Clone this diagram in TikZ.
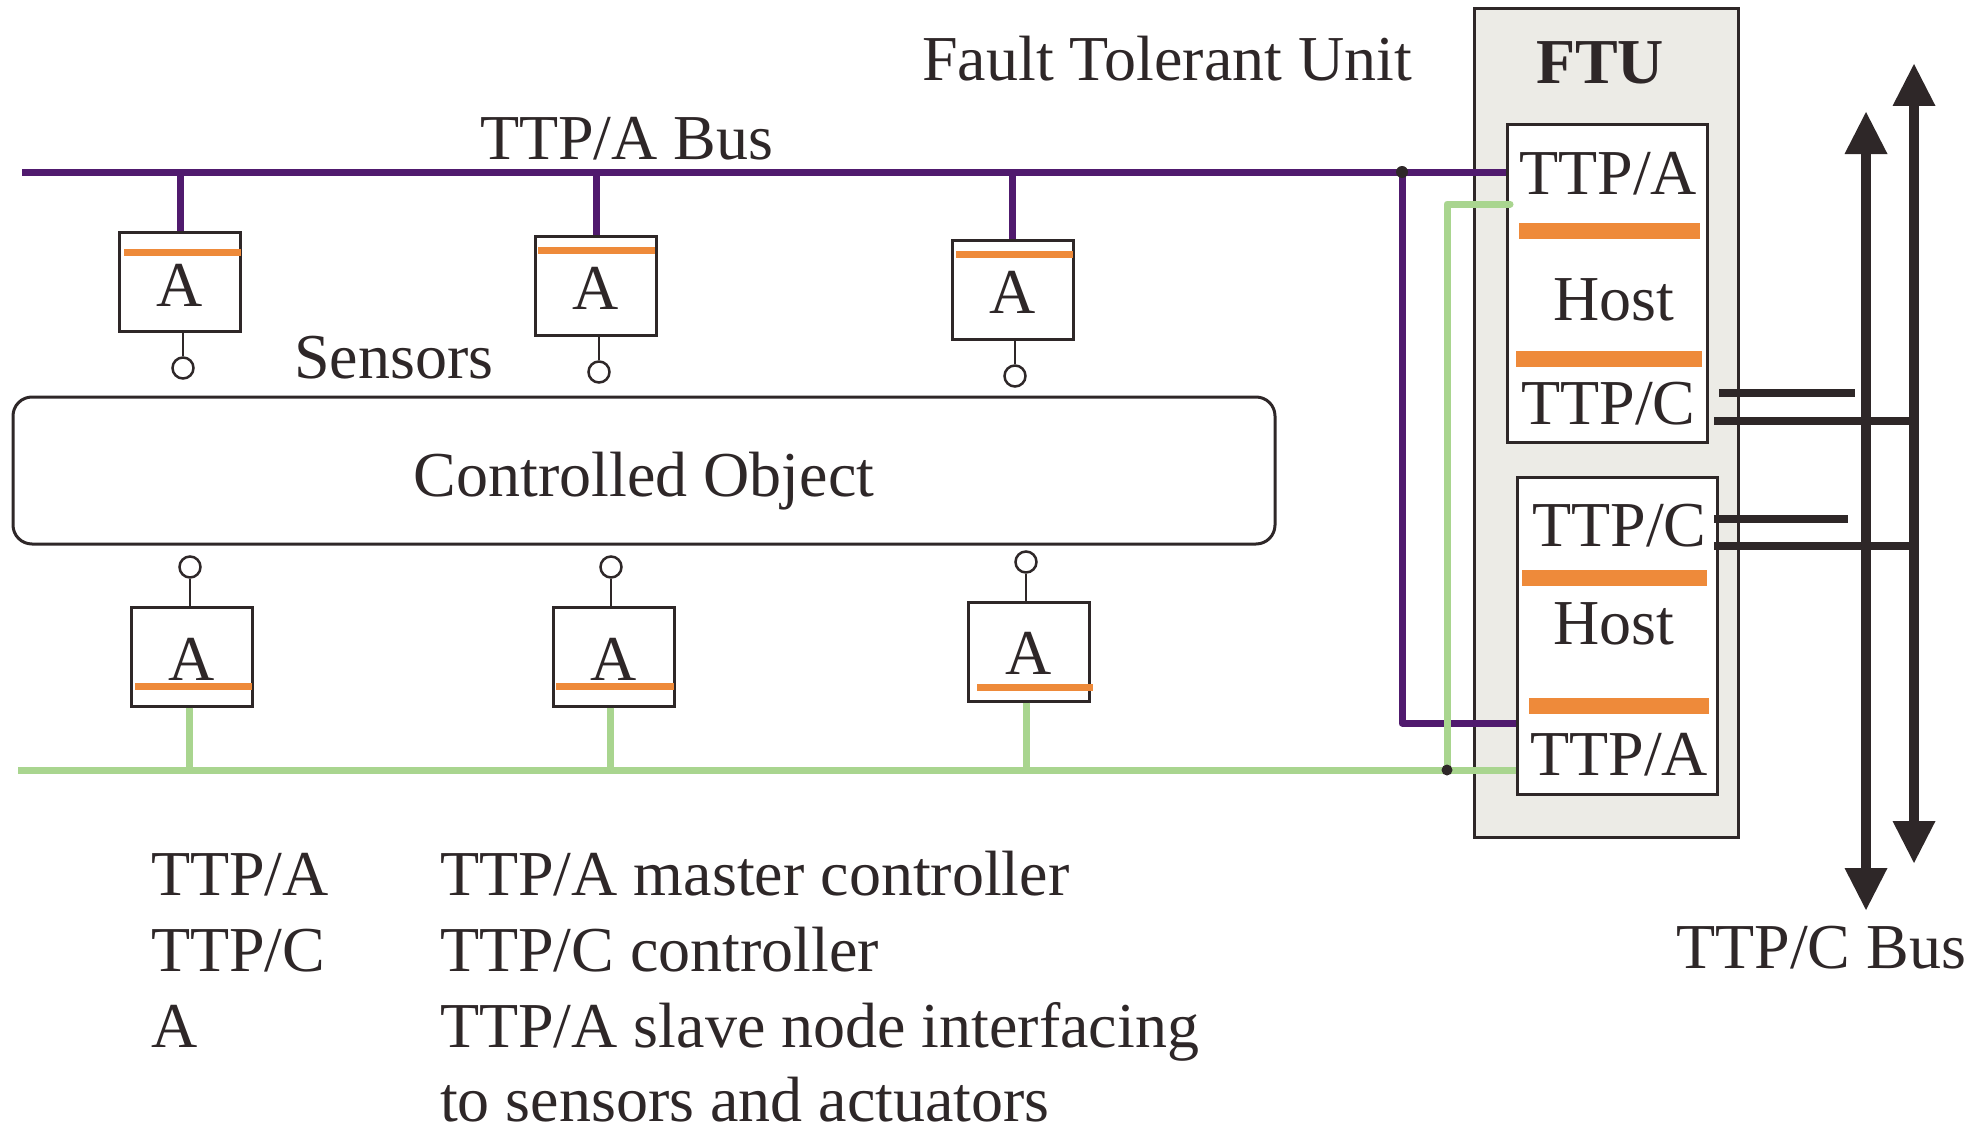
\documentclass[tikz,border=0pt]{standalone}
\usepackage{fontspec}
\setmainfont{Liberation Serif}
\usetikzlibrary{arrows.meta}
\definecolor{ink}{HTML}{2E2728}
\definecolor{ttpapurple}{HTML}{501A6E}
\definecolor{fieldgreen}{HTML}{A9D58F}
\definecolor{ifaceorange}{HTML}{EE8A3A}
\definecolor{ftugray}{HTML}{ECEBE6}

\tikzset{
  unitbox/.style={draw=ink, line width=3pt, fill=white, inner sep=0pt},
  slavebox/.style={unitbox, minimum width=121pt, minimum height=99pt},
  hostbox/.style={unitbox, minimum width=200pt, minimum height=317pt},
  txt/.style={inner sep=0pt, anchor=base west, text=ink},
  ctxt/.style={inner sep=0pt, anchor=base, text=ink},
  abus/.style={draw=ttpapurple, line width=7pt, line join=round},
  gbus/.style={draw=fieldgreen, line width=7pt, line join=round},
  ifbar/.style={draw=ifaceorange, line width=7pt},
  hostbar/.style={draw=ifaceorange, line width=16pt},
  port/.style={circle, draw=ink, line width=2.5pt, fill=white, minimum size=21pt, inner sep=0pt},
  pinstem/.style={draw=ink, line width=2.5pt},
  clink/.style={draw=ink, line width=8pt},
  cbus/.style={draw=ink, line width=10pt,
    >={Triangle[width=43pt,length=42pt,line width=0pt]}, <->},
  junction/.style={circle, fill=ink, inner sep=0pt, minimum size=12pt},
}

\begin{document}
\begin{tikzpicture}[x=1pt, y=-1pt, font=\fontsize{64}{77}\selectfont]
\useasboundingbox (0,0) rectangle (1967,1129);

% ---------- Fault tolerant unit ----------
\node[draw=ink, line width=3pt, fill=ftugray, inner sep=0pt,
      minimum width=264pt, minimum height=828pt] (ftu) at (1606,423) {};
\node[ctxt, font=\fontsize{64}{77}\selectfont\bfseries] (ftulabel) at (1600,84) {FTU};
\node[txt] (ftucaption) at (922,81) {Fault Tolerant Unit};

\node[hostbox] (hostA) at (1607,283.5) {};
\node[txt] (hostAttpa) at (1519,194) {TTP/A};
\node[txt] (hostAname) at (1553,320) {Host};
\node[txt] (hostAttpc) at (1521,424) {TTP/C};
\draw[hostbar] (1519,231) -- (1700,231);
\draw[hostbar] (1516,359) -- (1702,359);

\node[hostbox] (hostB) at (1617,635.5) {};
\node[txt] (hostBttpc) at (1532,546) {TTP/C};
\node[txt] (hostBname) at (1553,644) {Host};
\node[txt] (hostBttpa) at (1530,775) {TTP/A};
\draw[hostbar] (1522,578) -- (1707,578);
\draw[hostbar] (1529,706) -- (1709,706);

% ---------- TTP/C bus (two replicated channels) ----------
\coordinate (chAtop) at (1866,112);
\coordinate (chAbot) at (1866,910);
\coordinate (chBtop) at (1914,64);
\coordinate (chBbot) at (1914,863);

\draw[clink] (1719,393) -- (1855,393);
\draw[clink] (1714,421) -- (chBtop |- 0,421);
\draw[clink] (1714,519) -- (1848,519);
\draw[clink] (1714,546) -- (chBtop |- 0,546);

\draw[cbus] (chAtop) -- (chAbot);
\draw[cbus] (chBtop) -- (chBbot);
\node[txt] (cbuslabel) at (1676,968) {TTP/C Bus};

% ---------- Controlled object ----------
\node[draw=ink, line width=3pt, rounded corners=19pt, inner sep=0pt,
      minimum width=1262pt, minimum height=147pt] (plant) at (644,470.5) {};
\node[ctxt] (plantlabel) at (644,496) {Controlled Object};
\node[txt] (sensorlabel) at (294,378) {Sensors};

% ---------- TTP/A bus (purple) ----------
\coordinate (abusL) at (22,172);
\coordinate (abusR) at (hostA.west |- abusL);
\coordinate (ajoin) at (1402,172);
\coordinate (aport) at (hostB.west |- 0,723);
\draw[abus] (abusL) -- (abusR);
\draw[abus] (ajoin) |- (aport);
\node[txt] (abuslabel) at (480,159) {TTP/A Bus};

% sensor-side slave nodes
\node[slavebox] (s1) at (180,281.5) {};
\node[slavebox] (s2) at (596,285.5) {};
\node[slavebox] (s3) at (1012.5,289.5) {};
\node[ctxt] (s1t) at (180,306) {A};
\node[ctxt] (s2t) at (596,309.5) {A};
\node[ctxt] (s3t) at (1012.5,313) {A};
\draw[ifbar] (124,252) -- (241,252);
\draw[ifbar] (538,250) -- (655,250);
\draw[ifbar] (956,254.5) -- (1073,254.5);
\foreach \n in {s1,s2,s3}
  \draw[abus] (\n.north |- abusL) -- (\n.north);

\node[port] (p1) at (183,368) {};
\node[port] (p2) at (599,372) {};
\node[port] (p3) at (1015,376) {};
\draw[pinstem] (s1.south -| p1) -- (p1.north);
\draw[pinstem] (s2.south -| p2) -- (p2.north);
\draw[pinstem] (s3.south -| p3) -- (p3.north);

% ---------- field bus (green) ----------
\coordinate (gbusL) at (18,770);
\coordinate (gbusR) at (hostB.west |- gbusL);
\coordinate (gjoin) at (1447,770);
\coordinate (gport) at (1510,204);
\draw[gbus] (gbusL) -- (gbusR);
\draw[gbus, line cap=round] (gport) -| (gjoin);

% actuator-side slave nodes
\node[slavebox] (a1) at (192,656.5) {};
\node[slavebox] (a2) at (613.5,656.5) {};
\node[slavebox] (a3) at (1028.5,651.5) {};
\node[ctxt] (a1t) at (192,680) {A};
\node[ctxt] (a2t) at (613.5,680) {A};
\node[ctxt] (a3t) at (1028.5,674) {A};
\draw[ifbar] (135,686) -- (252,686);
\draw[ifbar] (556,686) -- (674,686);
\draw[ifbar] (977,687) -- (1093,687);

\node[port] (q1) at (190,567) {};
\node[port] (q2) at (611,567) {};
\node[port] (q3) at (1026,562) {};
\draw[pinstem] (q1.south) -- (a1.north -| q1);
\draw[pinstem] (q2.south) -- (a2.north -| q2);
\draw[pinstem] (q3.south) -- (a3.north -| q3);

\draw[gbus] ([xshift=-3pt]a1.south) -- ([xshift=-3pt]a1.south |- gbusL);
\draw[gbus] ([xshift=-3pt]a2.south) -- ([xshift=-3pt]a2.south |- gbusL);
\draw[gbus] ([xshift=-2pt]a3.south) -- ([xshift=-2pt]a3.south |- gbusL);

% bus junctions
\node[junction] (ajoindot) at (ajoin) {};
\node[junction, minimum size=11pt] (gjoindot) at (gjoin) {};

% ---------- legend ----------
\node[txt] (k1) at (151,895) {TTP/A};
\node[txt] (k2) at (151,971) {TTP/C};
\node[txt] (k3) at (151,1047) {A};
\node[txt] (d1) at (440,895) {TTP/A master controller};
\node[txt] (d2) at (440,971) {TTP/C controller};
\node[txt] (d3) at (440,1047) {TTP/A slave node interfacing};
\node[txt] (d4) at (440,1121) {to sensors and actuators};
\end{tikzpicture}
\end{document}
